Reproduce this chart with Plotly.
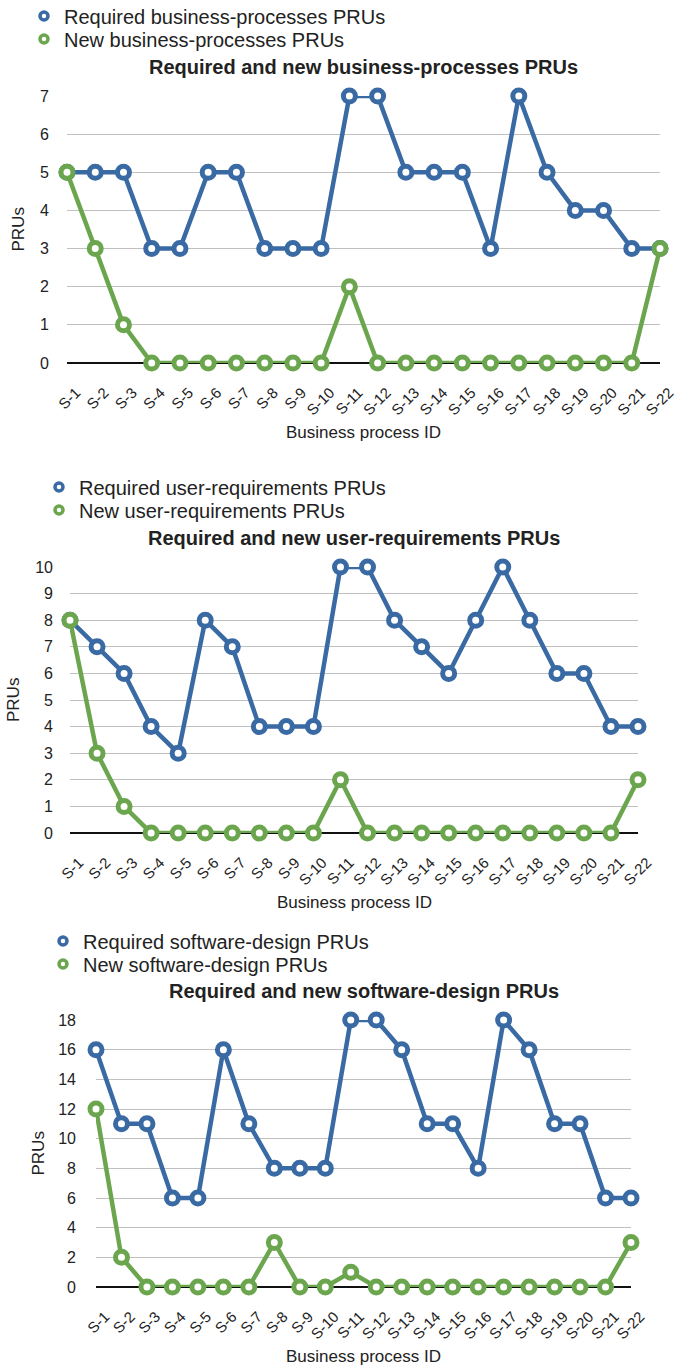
import plotly.graph_objects as go

# données
ids = ["S-%d" % i for i in range(1, 23)]

bp_required = [5, 5, 5, 3, 3, 5, 5, 3, 3, 3, 7, 7, 5, 5, 5, 3, 7, 5, 4, 4, 3, 3]
bp_new = [5, 3, 1, 0, 0, 0, 0, 0, 0, 0, 2, 0, 0, 0, 0, 0, 0, 0, 0, 0, 0, 3]

ur_required = [8, 7, 6, 4, 3, 8, 7, 4, 4, 4, 10, 10, 8, 7, 6, 8, 10, 8, 6, 6, 4, 4]
ur_new = [8, 3, 1, 0, 0, 0, 0, 0, 0, 0, 2, 0, 0, 0, 0, 0, 0, 0, 0, 0, 0, 2]

sd_required = [16, 11, 11, 6, 6, 16, 11, 8, 8, 8, 18, 18, 16, 11, 11, 8, 18, 16, 11, 11, 6, 6]
sd_new = [12, 2, 0, 0, 0, 0, 0, 3, 0, 0, 1, 0, 0, 0, 0, 0, 0, 0, 0, 0, 0, 3]

W, H = 678, 1366
BLUE = "#3a6aa3"
GREEN = "#6ba64f"
TXT = "#222222"
FONT = "Liberation Sans, Arial, sans-serif"


def px(x):  # pixel -> paper
    return x / W


def py(y):
    return 1 - y / H


charts = [
    dict(req=bp_required, new=bp_new, name="business-processes", ymax=7, dtick=1,
         x0=67, x1=660, y0=96, y1=363, lx=41, ly=17, labx=18, so=17, xt=433),
    dict(req=ur_required, new=ur_new, name="user-requirements", ymax=10, dtick=1,
         x0=70, x1=638, y0=567, y1=833, lx=56, ly=488, labx=13, so=16, xt=903),
    dict(req=sd_required, new=sd_new, name="software-design", ymax=18, dtick=2,
         x0=96, x1=631, y0=1020, y1=1287, lx=60, ly=942, labx=38, so=19, xt=1356),
]

fig = go.Figure()
annotations = []
layout = {}
nleg = 0

for i, c in enumerate(charts):
    n = "" if i == 0 else str(i + 1)
    xa, ya = "x" + n, "y" + n

    series = [(c["req"], BLUE, "Required %s PRUs" % c["name"]),
              (c["new"], GREEN, "New %s PRUs" % c["name"])]
    for vals, col, lab in series:
        fig.add_trace(go.Scatter(x=ids, y=vals, mode="lines+markers", xaxis=xa, yaxis=ya,
                                 line=dict(color=col, width=4.5),
                                 marker=dict(size=12, color="white", line=dict(color=col, width=5)),
                                 cliponaxis=False, showlegend=False, hoverinfo="x+y", name=lab))
    # une légende par entrée, pour placer chaque ligne
    for k, (vals, col, lab) in enumerate(series):
        nleg += 1
        lg = "legend" if nleg == 1 else "legend%d" % nleg
        fig.add_trace(go.Scatter(x=[None], y=[None], mode="markers", xaxis=xa, yaxis=ya,
                                 marker=dict(size=8, color="white", line=dict(color=col, width=3.5)),
                                 name=lab, legend=lg, showlegend=True))
        layout[lg] = dict(x=px(c["lx"] - 17), y=py(c["ly"] - 1 + 23 * k), xanchor="left", yanchor="middle",
                          bgcolor="rgba(0,0,0,0)",
                          borderwidth=0, font=dict(size=20, color=TXT, family=FONT), itemwidth=30)

    layout["xaxis" + n] = dict(domain=[px(c["x0"]), px(c["x1"])], anchor=ya, automargin=False,
                               type="category", range=[0, 21], showgrid=False, zeroline=False,
                               showline=False, ticks="", tickangle=-45, ticklabelstandoff=17,
                               ticklabelshift=9, tickfont=dict(size=15, color=TXT, family=FONT))
    layout["yaxis" + n] = dict(domain=[py(c["y1"]), py(c["y0"])], anchor=xa, automargin=False,
                               range=[0, c["ymax"]], dtick=c["dtick"], showgrid=True,
                               gridcolor="#c0c0c0", gridwidth=1.2, zeroline=True,
                               zerolinecolor="#111111", zerolinewidth=2, showline=False,
                               ticks="", ticklabelstandoff=c["so"],
                               tickfont=dict(size=16, color=TXT, family=FONT))

    # titres
    ann = dict(xref="paper", yref="paper", showarrow=False, xanchor="center", yanchor="middle")
    annotations.append(dict(ann, text="<b>Required and new %s PRUs</b>" % c["name"],
                            x=px((c["x0"] + c["x1"]) / 2), y=py(c["y0"] - 29),
                            font=dict(size=20, color=TXT, family=FONT)))
    annotations.append(dict(ann, text="PRUs", textangle=-90, x=px(c["labx"]), y=py((c["y0"] + c["y1"]) / 2),
                            font=dict(size=17, color=TXT, family=FONT)))
    annotations.append(dict(ann, text="Business process ID", x=px((c["x0"] + c["x1"]) / 2), y=py(c["xt"]),
                            font=dict(size=17, color=TXT, family=FONT)))

fig.update_layout(template="none", width=W, height=H, autosize=False,
                  margin=dict(l=0, r=0, t=0, b=0, pad=0, autoexpand=False),
                  plot_bgcolor="white", paper_bgcolor="white", annotations=annotations,
                  font=dict(family=FONT, color=TXT), **layout)

# pas de marge autour du graphique dans la page
fig.write_html("out.html", config={"displayModeBar": False},
               post_script="document.body.style.margin='0';")
